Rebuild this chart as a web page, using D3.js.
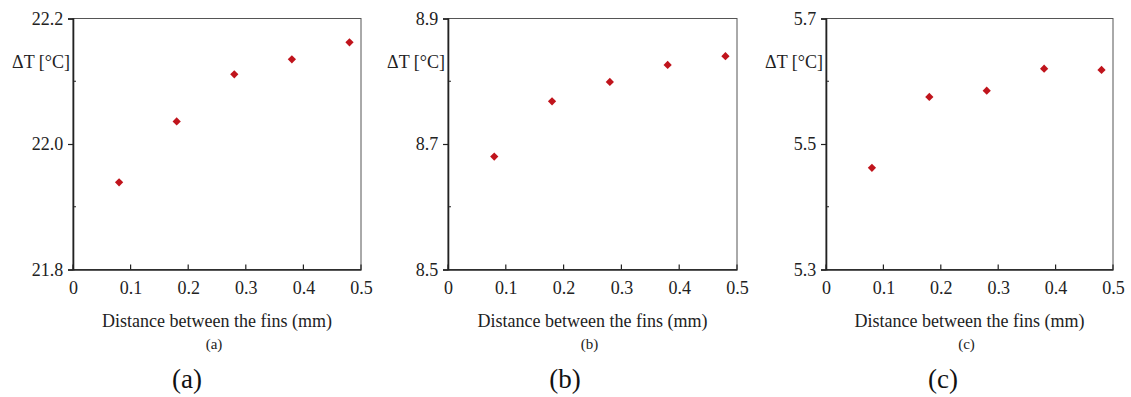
<!DOCTYPE html>
<html><head><meta charset="utf-8">
<script src="https://cdn.jsdelivr.net/npm/d3@7"></script>
<style>html,body{margin:0;padding:0;background:#fff;}svg{display:block;}</style>
</head><body>
<svg id="c" width="1131" height="397"></svg>
<script>
const xValues = [0.08, 0.18, 0.28, 0.38, 0.48];
const seriesA = [21.939, 22.036, 22.111, 22.135, 22.162];
const seriesB = [8.680, 8.768, 8.799, 8.826, 8.840];
const seriesC = [5.462, 5.575, 5.585, 5.620, 5.618];
const xTicks = [0, 0.1, 0.2, 0.3, 0.4, 0.5];
const yTicksA = [21.8, 22.0, 22.2];
const yTicksB = [8.5, 8.7, 8.9];
const yTicksC = [5.3, 5.5, 5.7];
const panelLabels = ["(a)", "(b)", "(c)"];
const xTitle = "Distance between the fins (mm)";
const yTitle = "\u0394T [\u00b0C]";

const panels = [
  {vals: seriesA, yt: yTicksA, x0: 73, x1: 361, big: 187},
  {vals: seriesB, yt: yTicksB, x0: 448, x1: 737, big: 565},
  {vals: seriesC, yt: yTicksC, x0: 826, x1: 1113, big: 943}
];
const plotTop = 18.5, plotBot = 269.5;
const svg = d3.select("#c");
const font = "'Liberation Serif','Times New Roman',serif";

panels.forEach((p, i) => {
  const x = d3.scaleLinear().domain([0, 0.5]).range([p.x0, p.x1]);
  const y = d3.scaleLinear().domain([p.yt[0], p.yt[2]]).range([plotBot, plotTop]);
  const g = svg.append("g");
  g.append("rect").attr("x", p.x0).attr("y", plotTop).attr("width", p.x1 - p.x0).attr("height", plotBot - plotTop)
    .attr("fill", "none").attr("stroke", "#555").attr("stroke-width", 1);
  const ya = g.append("g").attr("transform", `translate(${p.x0},0)`)
    .call(d3.axisLeft(y).tickValues(p.yt).tickSize(5).tickFormat(d3.format(".1f")));
  ya.select(".domain").attr("stroke", "#222").attr("stroke-width", 1.6);
  ya.selectAll(".tick line").attr("stroke", "#222").attr("stroke-width", 1.2);
  ya.selectAll("text").attr("font-family", font).attr("font-size", 18).attr("fill", "#222").attr("dx", "-0.1em");
  const minor = [(p.yt[0] + p.yt[1]) / 2, (p.yt[1] + p.yt[2]) / 2];
  g.selectAll(".mn").data(minor).join("line")
    .attr("x1", p.x0).attr("x2", p.x0 + 3).attr("y1", d => y(d)).attr("y2", d => y(d))
    .attr("stroke", "#222").attr("stroke-width", 1);
  const xa = g.append("g").attr("transform", `translate(0,${plotBot})`)
    .call(d3.axisBottom(x).tickValues(xTicks).tickSize(0).tickPadding(12).tickFormat(d => d === 0 ? "0" : d3.format(".1f")(d)));
  xa.select(".domain").attr("stroke", "#222").attr("stroke-width", 1.6);
  xa.selectAll("text").attr("font-family", font).attr("font-size", 18).attr("fill", "#222");
  g.selectAll(".xt").data(xTicks).join("line")
    .attr("x1", d => x(d)).attr("x2", d => x(d)).attr("y1", plotBot).attr("y2", plotBot - 5)
    .attr("stroke", "#222").attr("stroke-width", 1.2);
  g.append("text").attr("x", p.x0 - 3).attr("y", 68).attr("text-anchor", "end")
    .attr("font-family", font).attr("font-size", 18).attr("fill", "#222").text(yTitle);
  g.append("text").attr("x", (p.x0 + p.x1) / 2).attr("y", 327).attr("text-anchor", "middle")
    .attr("font-family", font).attr("font-size", 18).attr("fill", "#222").text(xTitle);
  g.append("text").attr("x", (p.x0 + p.x1) / 2 - 3).attr("y", 349).attr("text-anchor", "middle")
    .attr("font-family", font).attr("font-size", 15).attr("fill", "#222").text(panelLabels[i]);
  g.append("text").attr("x", p.big).attr("y", 388).attr("text-anchor", "middle")
    .attr("font-family", font).attr("font-size", 27).attr("fill", "#111").text(panelLabels[i]);
  const sym = d3.symbol().type(d3.symbolSquare).size(34);
  g.selectAll(".pt").data(p.vals).join("path")
    .attr("d", sym)
    .attr("transform", (d, j) => `translate(${x(xValues[j])},${y(d)}) rotate(45)`)
    .attr("fill", "#c0141c");
});
</script>
</body></html>
